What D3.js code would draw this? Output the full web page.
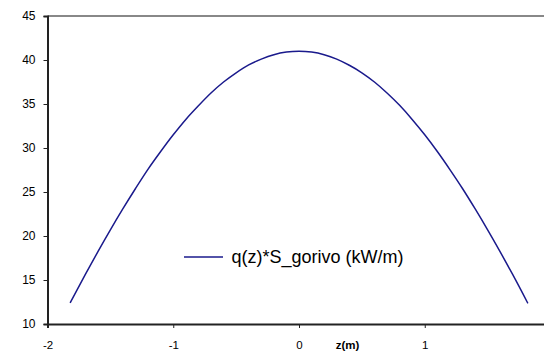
<!DOCTYPE html>
<html><head><meta charset="utf-8">
<script src="https://cdn.jsdelivr.net/npm/d3@7"></script>
<style>body{margin:0;background:#fff}svg{display:block;font-family:Arial,"Liberation Sans",sans-serif}</style>
</head><body><svg id="c" width="544" height="352"></svg>
<script>
const zValues = [-1.82,-1.7,-1.6,-1.5,-1.4,-1.3,-1.2,-1.1,-1.0,-0.9,-0.8,-0.7,-0.6,-0.5,-0.4,-0.3,-0.2,-0.1,0,0.1,0.2,0.3,0.4,0.5,0.6,0.7,0.8,0.9,1.0,1.1,1.2,1.3,1.4,1.5,1.6,1.7,1.82];
const qValues = [12.4,15.6,18.2,20.7,23.1,25.4,27.6,29.6,31.5,33.25,34.8,36.25,37.5,38.55,39.45,40.1,40.6,40.9,41.0,40.9,40.6,40.1,39.4,38.55,37.5,36.25,34.85,33.25,31.5,29.6,27.55,25.4,23.1,20.7,18.2,15.6,12.35];
const xTicks = [-2,-1,0,1];
const xTickLabels = ["-2","-1","0","1"];
const yTicks = [10,15,20,25,30,35,40,45];
const seriesName = "q(z)*S_gorivo (kW/m)";
const xTitle = "z(m)";

const svg = d3.select("#c");
const x = d3.scaleLinear().domain([-2,2]).range([47.5,550.5]);
const y = d3.scaleLinear().domain([10,45]).range([324,16]);

// top border
svg.append("line").attr("x1",47.5).attr("x2",544).attr("y1",y(45)).attr("y2",y(45))
  .attr("stroke","#888").attr("stroke-width",2);

const xa = svg.append("g").attr("transform","translate(0,324)")
  .call(d3.axisBottom(x).tickValues(xTicks).tickSize(4).tickPadding(13)
    .tickFormat((d,i)=>xTickLabels[i]));
xa.select(".domain").attr("stroke","#222").attr("stroke-width",2);
xa.selectAll("text").attr("font-size",11.5).attr("fill","#000").attr("font-family","Arial, Liberation Sans, sans-serif");
xa.selectAll(".tick line").attr("stroke","#222");

const ya = svg.append("g").attr("transform","translate(47.5,0)")
  .call(d3.axisLeft(y).tickValues(yTicks).tickSize(4).tickPadding(8));
ya.select(".domain").attr("stroke","#222").attr("stroke-width",2);
ya.selectAll("text").attr("font-size",12).attr("fill","#000").attr("font-family","Arial, Liberation Sans, sans-serif");
ya.selectAll(".tick line").attr("stroke","#222");

svg.append("text").attr("x",347.5).attr("y",349).attr("text-anchor","middle")
  .attr("font-size",11.5).attr("font-weight","bold").text(xTitle);

const line = d3.line().x((d,i)=>x(zValues[i])).y(d=>y(d)).curve(d3.curveMonotoneX);
svg.append("path").datum(qValues).attr("d",line).attr("fill","none")
  .attr("stroke","#1a1a8c").attr("stroke-width",1.5);

// legend
svg.append("line").attr("x1",184).attr("x2",223).attr("y1",257).attr("y2",257)
  .attr("stroke","#1a1a8c").attr("stroke-width",1.5);
svg.append("text").attr("x",231.5).attr("y",263).attr("font-size",18).attr("fill","#000").text(seriesName);
</script></body></html>
